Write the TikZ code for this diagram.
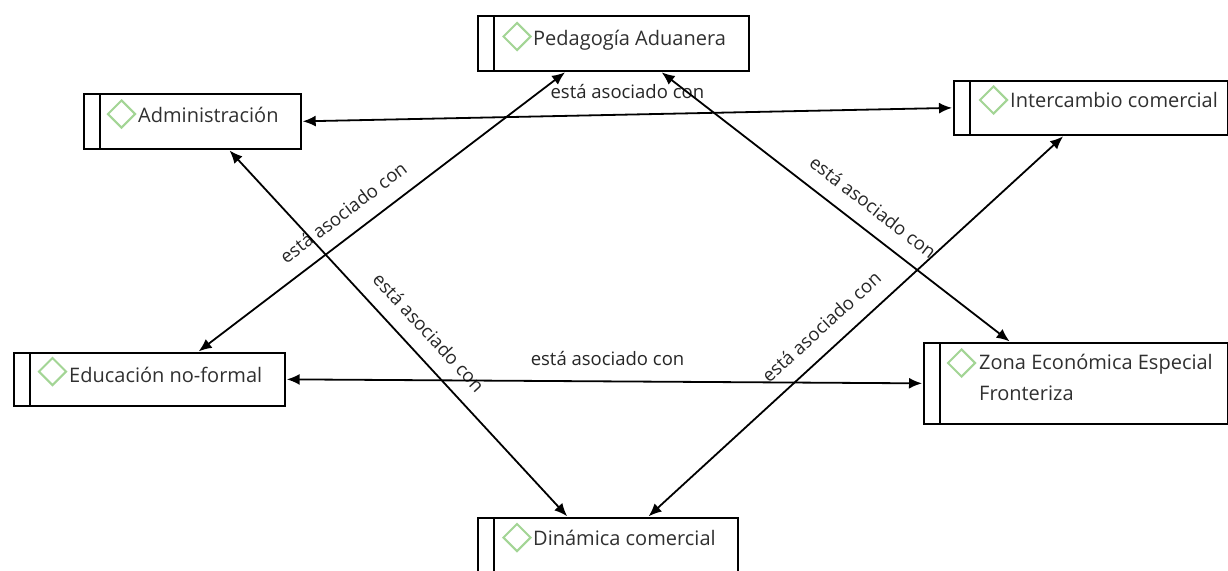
\documentclass[tikz,border=0pt]{standalone}
\usepackage{fontspec}
\setmainfont{Open Sans}
\usetikzlibrary{arrows.meta,shapes.geometric,calc}
\definecolor{boxtxt}{HTML}{303030}
\definecolor{lbltxt}{HTML}{262626}
\definecolor{dgreen}{HTML}{A3D595}
\tikzset{
  concept/.style={draw=black, line width=1.7pt, rectangle, anchor=north west, inner sep=0pt, fill=white},
  divider/.style={draw=black, line width=1.7pt},
  dia/.style={diamond, draw=dgreen, line width=2pt, minimum width=28pt, minimum height=28pt, inner sep=0pt},
  ctext/.style={anchor=base west, inner sep=0pt, text=boxtxt, font=\fontsize{20}{31}\selectfont, align=left},
  link/.style={draw=black, line width=1.8pt, {Latex[length=13pt,width=11pt]}-{Latex[length=13pt,width=11pt]}, shorten <=1pt, shorten >=1pt},
  lbl/.style={text=lbltxt, font=\fontsize{18.5}{22}\selectfont, inner sep=1pt}
}
\newcommand\conceptbox[9]{%
  \node[concept, minimum width=#4pt, minimum height=#5pt] (#1) at (#2,#3) {};
  \draw[divider] ($(#1.north west)+(17,0)$) -- ($(#1.south west)+(17,0)$);
  \node[dia] (#1-d) at ($(#1.north west)+(#6)$) {};
  \node[ctext] (#1-t) at ($(#1.north west)+(#7,#8)$) {#9};
}
\begin{document}
\begin{tikzpicture}[x=1pt,y=-1pt]
\useasboundingbox[fill=white] (0,0) rectangle (1228,570);
\conceptbox{ped}{477}{15}{271}{55}{40,21.5}{56}{30}{Pedagogía Aduanera}
\conceptbox{adm}{83}{93}{217}{55}{38.5,21}{55}{29}{Administración}
\conceptbox{int}{953}{80}{274}{54}{40.5,20}{57}{27}{Intercambio comercial}
\conceptbox{edu}{13}{352}{271}{53}{39.5,19.5}{56}{30}{Educación no-formal}
\conceptbox{zon}{923}{342}{304}{81}{38.5,21}{56}{58}{Zona Económica Especial\\Fronteriza}
\conceptbox{din}{477}{517}{260}{60}{40,20.5}{56}{28}{Dinámica comercial}

\draw[link] (adm.east) -- (int.west)
  node[lbl, pos=0.5, above=14pt] {está asociado con};
\draw[link] ([xshift=-47.5pt]ped.south) -- ([xshift=48.5pt]edu.north)
  node[lbl, pos=0.567, sloped, above=14pt] {está asociado con};
\draw[link] ([xshift=47.5pt]ped.south) -- ([xshift=-65.5pt]zon.north)
  node[lbl, pos=0.567, sloped, above=14pt] {está asociado con};
\draw[link] ([xshift=36.5pt]adm.south) -- ([xshift=-40pt]din.north)
  node[lbl, pos=0.54, sloped, above=14pt] {está asociado con};
\draw[link] ([xshift=-27pt]int.south) -- ([xshift=40pt]din.north)
  node[lbl, pos=0.546, sloped, above=14pt] {está asociado con};
\draw[link] (edu.east) -- (zon.west)
  node[lbl, pos=0.505, above=14pt] {está asociado con};
\end{tikzpicture}
\end{document}
